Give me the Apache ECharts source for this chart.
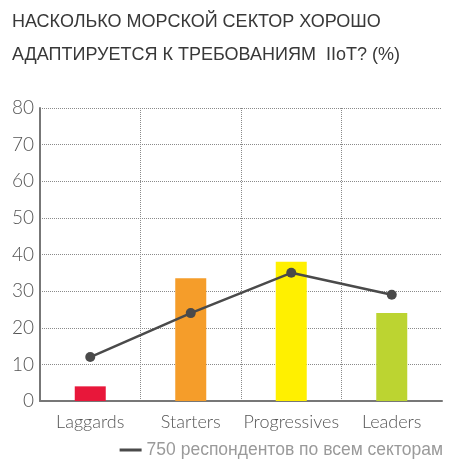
<!DOCTYPE html>
<html>
<head>
<meta charset="utf-8">
<script src="https://cdn.jsdelivr.net/npm/echarts@6/dist/echarts.min.js"></script>
<style>
html,body{margin:0;padding:0;background:#fff;}
#c{width:464px;height:473px;}
</style>
</head>
<body>
<div id="c"></div>
<script>
var titleLines = ['НАСКОЛЬКО МОРСКОЙ СЕКТОР ХОРОШО', 'АДАПТИРУЕТСЯ К ТРЕБОВАНИЯМ  IIoT? (%)'];
var categories = ['Laggards', 'Starters', 'Progressives', 'Leaders'];
var barValues = [4, 33.5, 38, 24];
var barColors = ['#e8173a', '#f59d2a', '#fff000', '#bcd431'];
var lineName = '750 респондентов по всем секторам';
var lineValues = [12, 24, 35, 29];
var yMin = 0, yMax = 80, yStep = 10;

var chart = echarts.init(document.getElementById('c'));
chart.setOption({
  animation: false,
  title: {
    text: titleLines.join('\n'),
    left: 12, top: 6, padding: 0,
    textStyle: {fontFamily: 'Arial, Liberation Sans', fontSize: 18, fontWeight: 'normal', color: '#383838', lineHeight: 33}
  },
  legend: {
    data: [{name: lineName, icon: 'rect'}],
    right: 16, bottom: 9,
    itemWidth: 22, itemHeight: 3, itemGap: 8,
    textStyle: {fontFamily: 'Arial, Liberation Sans', fontSize: 17.5, color: '#9a9a9a'}
  },
  grid: {left: 40, right: 22, top: 108, bottom: 72},
  xAxis: {
    type: 'category',
    data: categories,
    axisLine: {lineStyle: {color: '#777', width: 2}},
    axisTick: {show: false},
    axisLabel: {interval: 0, fontFamily: 'Lato', fontWeight: 300, fontSize: 18, color: '#555', margin: 12},
    splitLine: {show: true, interval: 0, showMinLine: false, showMaxLine: false, lineStyle: {type: 'dotted', color: '#8a8a8a', width: 1}}
  },
  yAxis: {
    type: 'value', min: yMin, max: yMax, interval: yStep,
    axisLine: {show: true, lineStyle: {color: '#777', width: 2}},
    axisTick: {show: false},
    axisLabel: {fontFamily: 'Lato', fontWeight: 300, fontSize: 19, color: '#555', margin: 6},
    splitLine: {show: true, lineStyle: {type: 'dotted', color: '#8a8a8a', width: 1}}
  },
  series: [
    {
      type: 'bar', name: 'bars',
      data: barValues.map(function (v, i) { return {value: v, itemStyle: {color: barColors[i]}}; }),
      barWidth: 31
    },
    {
      type: 'line', name: lineName,
      data: lineValues,
      symbol: 'circle', symbolSize: 10,
      lineStyle: {color: '#4a4a4a', width: 2.5},
      itemStyle: {color: '#4a4a4a'}
    }
  ]
});
</script>
</body>
</html>
